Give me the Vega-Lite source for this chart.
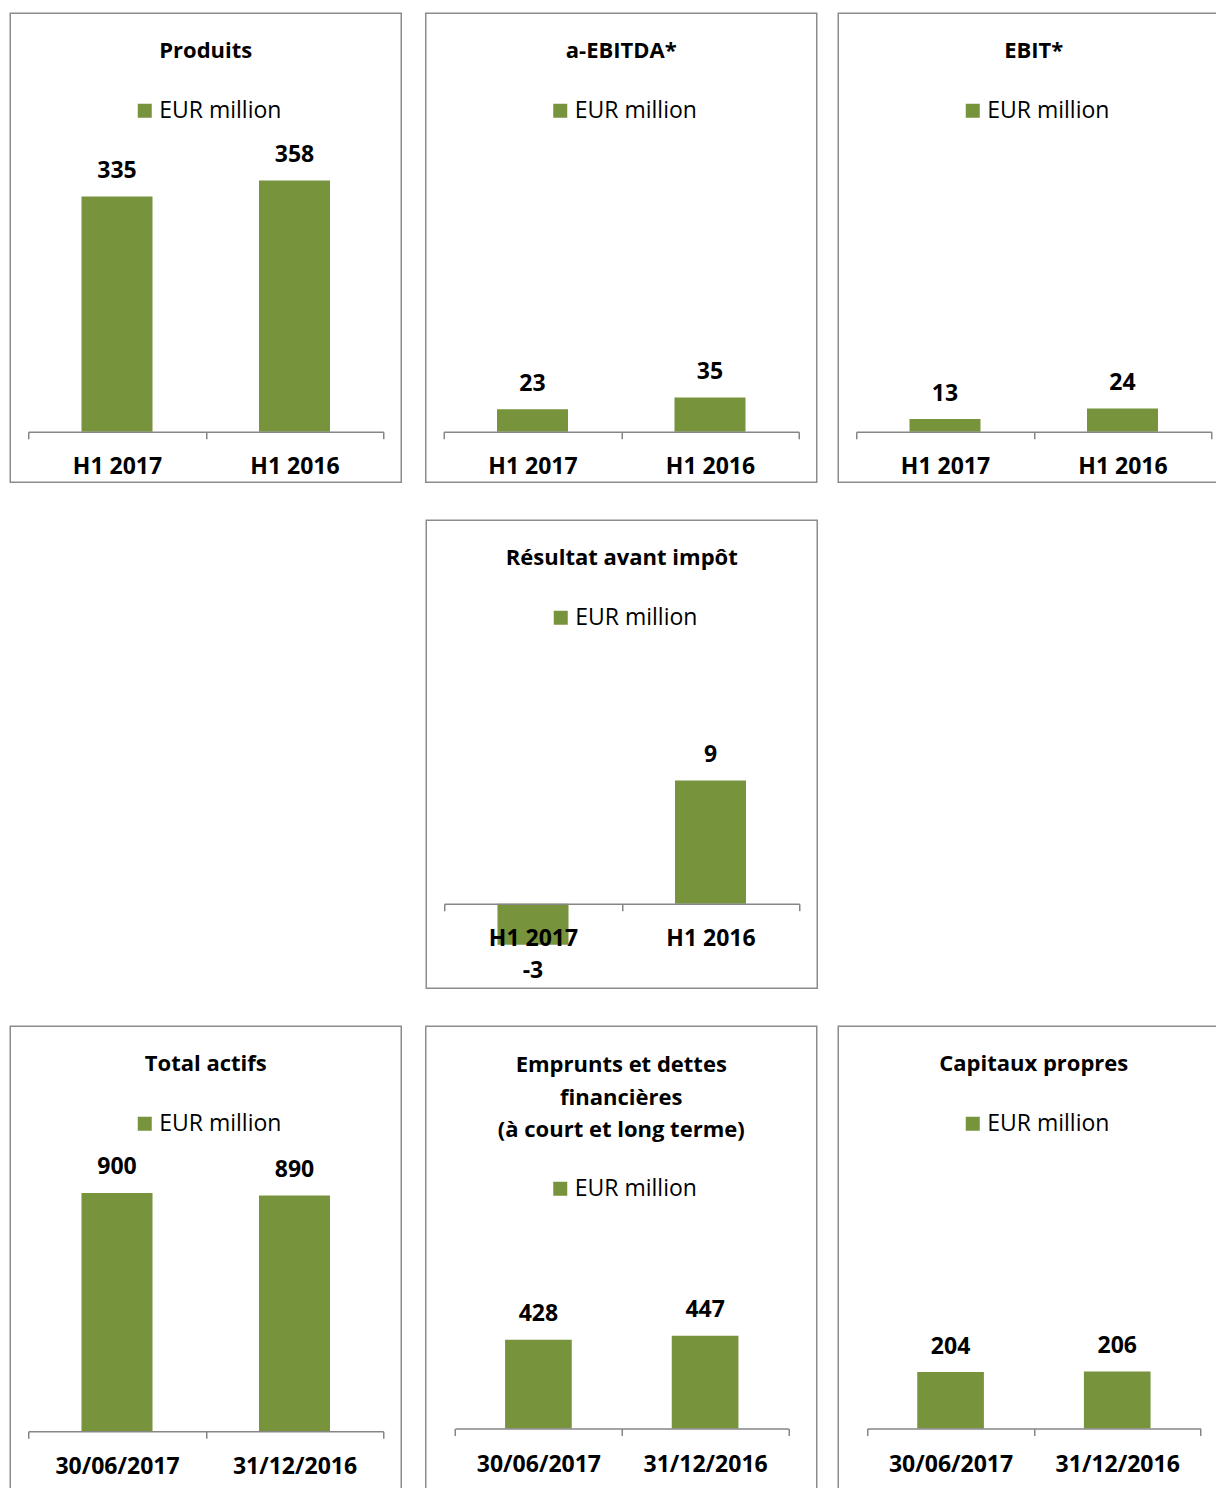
{
  "$schema": "https://vega.github.io/schema/vega-lite/v6.json",
  "padding": {"left": 9.25, "top": 12.25, "right": 0, "bottom": 0},
  "background": "white",
  "config": {
    "font": "Open Sans",
    "view": {"stroke": "#8c8c8c", "strokeWidth": 1.5},
    "title": {"font": "Open Sans", "fontSize": 22, "fontWeight": "bold", "color": "black", "baseline": "top", "frame": "group", "anchor": "middle", "lineHeight": 32.5, "offset": -49.5},
    "axisX": {"domainColor": "#868686", "domainWidth": 1.5, "tickColor": "#868686", "tickWidth": 1.5, "tickSize": 7, "tickBand": "extent", "labelFont": "Open Sans", "labelFontSize": 23, "labelFontWeight": "bold", "labelColor": "black", "labelAngle": 0, "grid": false, "zindex": 1},
    "legend": {"orient": "none", "legendX": 123, "legendY": 86, "title": null, "symbolType": "square", "symbolSize": 196, "symbolStrokeWidth": 0, "labelFont": "Open Sans", "labelFontSize": 23, "labelColor": "black", "labelOffset": 3, "padding": 0},
    "text": {"font": "Open Sans", "fontSize": 23, "fontWeight": "bold", "color": "black"}
  },
  "spacing": 36,
  "resolve": {"scale": {"color": "independent", "x": "independent", "y": "independent"}, "legend": {"color": "independent"}},
  "vconcat": [
    {
      "spacing": 22.5,
      "resolve": {"scale": {"color": "independent", "x": "independent", "y": "independent"}, "legend": {"color": "independent"}},
      "hconcat": [
        {
          "width": 391, "height": 469,
          "title": {"text": "Produits"},
          "data": {"values": [
            {"periode": "H1 2017", "valeur": 335, "serie": "EUR million"},
            {"periode": "H1 2016", "valeur": 358, "serie": "EUR million"}
          ]},
          "encoding": {
            "x": {"field": "periode", "type": "nominal", "sort": null, "scale": {"range": [18, 373], "paddingInner": 0, "paddingOuter": 0}, "axis": {"title": null, "offset": -50.5, "labelPadding": 16.5, "zindex": 1}},
            "y": {"field": "valeur", "type": "quantitative", "scale": {"domain": [-71.9, 596.2], "nice": false, "zero": false}, "axis": null}
          },
          "layer": [
            {"mark": {"type": "bar", "width": {"band": 0.4}}, "encoding": {"color": {"field": "serie", "type": "nominal", "scale": {"range": ["#77933c"]}}}},
            {"mark": {"type": "text", "baseline": "alphabetic", "dy": -18.5}, "encoding": {"text": {"field": "valeur", "type": "nominal"}}}
          ]
        },
        {
          "spacing": 19.5,
          "resolve": {"scale": {"color": "independent", "x": "independent", "y": "independent"}, "legend": {"color": "independent"}},
          "hconcat": [
            {
              "width": 391, "height": 469,
              "title": {"text": "a-EBITDA*"},
              "data": {"values": [
                {"periode": "H1 2017", "valeur": 23, "serie": "EUR million"},
                {"periode": "H1 2016", "valeur": 35, "serie": "EUR million"}
              ]},
              "encoding": {
                "x": {"field": "periode", "type": "nominal", "sort": null, "scale": {"range": [18, 373], "paddingInner": 0, "paddingOuter": 0}, "axis": {"title": null, "offset": -50.5, "labelPadding": 16.5, "zindex": 1}},
                "y": {"field": "valeur", "type": "quantitative", "scale": {"domain": [-51.8, 429.2], "nice": false, "zero": false}, "axis": null}
              },
              "layer": [
                {"mark": {"type": "bar", "width": {"band": 0.4}}, "encoding": {"color": {"field": "serie", "type": "nominal", "scale": {"range": ["#77933c"]}}}},
                {"mark": {"type": "text", "baseline": "alphabetic", "dy": -18.5}, "encoding": {"text": {"field": "valeur", "type": "nominal"}}}
              ]
            },
            {
              "width": 391, "height": 469,
              "title": {"text": "EBIT*"},
              "data": {"values": [
                {"periode": "H1 2017", "valeur": 13, "serie": "EUR million"},
                {"periode": "H1 2016", "valeur": 24, "serie": "EUR million"}
              ]},
              "encoding": {
                "x": {"field": "periode", "type": "nominal", "sort": null, "scale": {"range": [18, 373], "paddingInner": 0, "paddingOuter": 0}, "axis": {"title": null, "offset": -50.5, "labelPadding": 16.5, "zindex": 1}},
                "y": {"field": "valeur", "type": "quantitative", "scale": {"domain": [-52.1, 431.4], "nice": false, "zero": false}, "axis": null}
              },
              "layer": [
                {"mark": {"type": "bar", "width": {"band": 0.4}}, "encoding": {"color": {"field": "serie", "type": "nominal", "scale": {"range": ["#77933c"]}}}},
                {"mark": {"type": "text", "baseline": "alphabetic", "dy": -18.5}, "encoding": {"text": {"field": "valeur", "type": "nominal"}}}
              ]
            }
          ]
        }
      ]
    },
    {
      "spacing": 23,
      "resolve": {"scale": {"color": "independent", "x": "independent", "y": "independent"}, "legend": {"color": "independent"}},
      "hconcat": [
        {
          "width": 392, "height": 10,
          "data": {"values": [{"periode": "vide"}]},
          "mark": {"type": "point", "opacity": 0},
          "view": {"stroke": null}
        },
        {
          "width": 391, "height": 468,
          "title": {"text": "Résultat avant impôt"},
          "data": {"values": [
            {"periode": "H1 2017", "valeur": -3, "serie": "EUR million"},
            {"periode": "H1 2016", "valeur": 9, "serie": "EUR million"}
          ]},
          "encoding": {
            "x": {"field": "periode", "type": "nominal", "sort": null, "scale": {"range": [18, 373], "paddingInner": 0, "paddingOuter": 0}, "axis": {"title": null, "offset": -84.5, "labelPadding": 17, "zindex": 1}},
            "y": {"field": "valeur", "type": "quantitative", "scale": {"domain": [-6.17, 27.99], "nice": false, "zero": false}, "axis": null}
          },
          "layer": [
            {"mark": {"type": "bar", "width": {"band": 0.4}}, "encoding": {"color": {"field": "serie", "type": "nominal", "scale": {"range": ["#77933c"]}}}},
            {"transform": [{"filter": "datum.valeur >= 0"}], "mark": {"type": "text", "baseline": "alphabetic", "dy": -18.5}, "encoding": {"text": {"field": "valeur", "type": "nominal"}}},
            {"transform": [{"filter": "datum.valeur < 0"}], "mark": {"type": "text", "baseline": "top", "dy": 15}, "encoding": {"text": {"field": "valeur", "type": "nominal"}}}
          ]
        }
      ]
    },
    {
      "spacing": 22.5,
      "resolve": {"scale": {"color": "independent", "x": "independent", "y": "independent"}, "legend": {"color": "independent"}},
      "hconcat": [
        {
          "width": 391, "height": 469,
          "title": {"text": "Total actifs"},
          "data": {"values": [
            {"periode": "30/06/2017", "valeur": 900, "serie": "EUR million"},
            {"periode": "31/12/2016", "valeur": 890, "serie": "EUR million"}
          ]},
          "encoding": {
            "x": {"field": "periode", "type": "nominal", "sort": null, "scale": {"range": [18, 373], "paddingInner": 0, "paddingOuter": 0}, "axis": {"title": null, "offset": -64, "labelPadding": 17.5, "zindex": 1}},
            "y": {"field": "valeur", "type": "quantitative", "scale": {"domain": [-241.7, 1529.5], "nice": false, "zero": false}, "axis": null}
          },
          "layer": [
            {"mark": {"type": "bar", "width": {"band": 0.4}}, "encoding": {"color": {"field": "serie", "type": "nominal", "scale": {"range": ["#77933c"]}}}},
            {"mark": {"type": "text", "baseline": "alphabetic", "dy": -18.5}, "encoding": {"text": {"field": "valeur", "type": "nominal"}}}
          ]
        },
        {
          "spacing": 19.5,
          "resolve": {"scale": {"color": "independent", "x": "independent", "y": "independent"}, "legend": {"color": "independent"}},
          "hconcat": [
            {
              "width": 391, "height": 469,
              "title": {"text": ["Emprunts et dettes", "financières", "(à court et long terme)"], "offset": -116},
              "data": {"values": [
                {"periode": "30/06/2017", "valeur": 428, "serie": "EUR million"},
                {"periode": "31/12/2016", "valeur": 447, "serie": "EUR million"}
              ]},
              "encoding": {
                "x": {"field": "periode", "type": "nominal", "sort": null, "scale": {"range": [29.3, 362.7], "paddingInner": 0, "paddingOuter": 0}, "axis": {"title": null, "offset": -66.7, "labelPadding": 17.5, "zindex": 1}},
                "y": {"field": "valeur", "type": "quantitative", "scale": {"domain": [-321.4, 1938.8], "nice": false, "zero": false}, "axis": null}
              },
              "layer": [
                {"mark": {"type": "bar", "width": {"band": 0.4}}, "encoding": {"color": {"field": "serie", "type": "nominal", "scale": {"range": ["#77933c"]}, "legend": {"legendY": 151}}}},
                {"mark": {"type": "text", "baseline": "alphabetic", "dy": -18.5}, "encoding": {"text": {"field": "valeur", "type": "nominal"}}}
              ]
            },
            {
              "width": 391, "height": 469,
              "title": {"text": "Capitaux propres"},
              "data": {"values": [
                {"periode": "30/06/2017", "valeur": 204, "serie": "EUR million"},
                {"periode": "31/12/2016", "valeur": 206, "serie": "EUR million"}
              ]},
              "encoding": {
                "x": {"field": "periode", "type": "nominal", "sort": null, "scale": {"range": [29, 362.3], "paddingInner": 0, "paddingOuter": 0}, "axis": {"title": null, "offset": -66.7, "labelPadding": 17.5, "zindex": 1}},
                "y": {"field": "valeur", "type": "quantitative", "scale": {"domain": [-240.8, 1452.3], "nice": false, "zero": false}, "axis": null}
              },
              "layer": [
                {"mark": {"type": "bar", "width": {"band": 0.4}}, "encoding": {"color": {"field": "serie", "type": "nominal", "scale": {"range": ["#77933c"]}}}},
                {"mark": {"type": "text", "baseline": "alphabetic", "dy": -18.5}, "encoding": {"text": {"field": "valeur", "type": "nominal"}}}
              ]
            }
          ]
        }
      ]
    }
  ]
}
